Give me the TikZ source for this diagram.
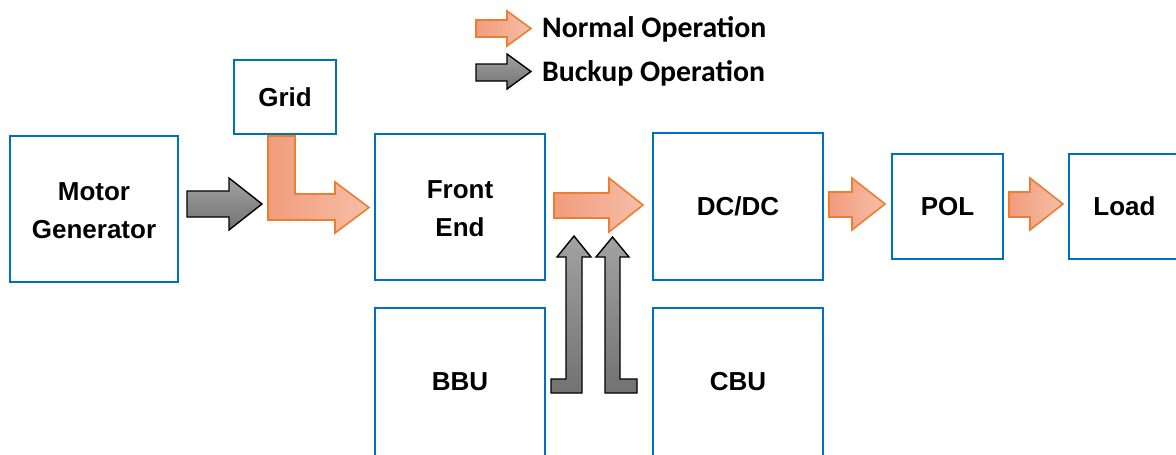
\documentclass[tikz,border=0pt]{standalone}
\usepackage{fontspec}
\setmainfont{Liberation Sans}
\newfontfamily\legendfont{Carlito}
\definecolor{boxblue}{HTML}{0070C0}
\definecolor{orangeline}{HTML}{ED7D31}
\definecolor{orangedark}{HTML}{F19C7C}
\definecolor{orangelight}{HTML}{F6BEA8}
\definecolor{graylight}{HTML}{A2A2A2}
\definecolor{graydark}{HTML}{727272}
\tikzset{
  block/.style={draw=boxblue, line width=2.6pt, fill=white, align=center,
    inner sep=0pt, font=\bfseries\fontsize{26}{38}\selectfont},
  blocktext/.style={inner sep=0pt, font=\bfseries\fontsize{26}{38}\selectfont},
  normalflow/.style={draw=orangeline, line width=1.6pt, line join=miter,
    left color=orangedark, right color=orangelight},
  backupflow/.style={draw=black, line width=1.4pt, line join=miter,
    top color=graylight, bottom color=graydark},
  legendtext/.style={anchor=west, inner sep=0pt,
    font=\legendfont\bfseries\fontsize{29.8}{30}\selectfont}
}
\begin{document}
\begin{tikzpicture}[x=1pt, y=-1pt]
\useasboundingbox (0,0) rectangle (1176,455);

% power blocks
\node[block, minimum width=168pt, minimum height=146pt] (mg)   at (94,209)    {};
\node[blocktext, align=center] (mgtext) at (94,211) {Motor\\Generator};
\node[block, minimum width=102pt, minimum height=74pt]  (grid) at (285,97)    {Grid};
\node[block, minimum width=170pt, minimum height=146pt] (fe)   at (460,207)   {};
\node[blocktext, align=center] (fetext) at (460,209) {Front\\End};
\node[block, minimum width=170pt, minimum height=147pt] (dcdc) at (738,206.5) {DC/DC};
\node[block, minimum width=111pt, minimum height=105pt] (pol)  at (947.5,206.5) {POL};
\node[block, minimum width=111pt, minimum height=105pt] (load) at (1124.5,206.5) {Load};
\node[block, minimum width=170pt, minimum height=152pt] (bbu)  at (460,384)   {};
\node[block, minimum width=170pt, minimum height=152pt] (cbu)  at (738,384)   {};
\node[blocktext] (bbutext) at (460,382) {BBU};
\node[blocktext] (cbutext) at (738,382) {CBU};

% generator feeding in (backup)
\draw[backupflow] (187,191) -- (229,191) -- (229,178) -- (262,204)
  -- (229,230) -- (229,217) -- (187,217) -- cycle;

% grid bent arrow into the front end
\draw[normalflow] (268,136) -- (295,136) -- (295,194) -- (335,194) -- (335,182)
  -- (369,207.5) -- (335,233) -- (335,220) -- (268,220) -- cycle;

% front end to DC/DC
\draw[normalflow] (554,193) -- (609,193) -- (609,178) -- (643,205)
  -- (609,232) -- (609,218) -- (554,218) -- cycle;

% battery and capacitor backup units feeding up
\draw[backupflow] (551,393) -- (551,379) -- (566,379) -- (566,257) -- (557,257)
  -- (574,236) -- (591,257) -- (582,257) -- (582,393) -- cycle;
\draw[backupflow] (605,393) -- (605,257) -- (596,257) -- (612.5,237) -- (629,257)
  -- (620,257) -- (620,379) -- (637,379) -- (637,393) -- cycle;

% DC/DC to POL, POL to load
\draw[normalflow] (829,192) -- (852,192) -- (852,178) -- (885,204)
  -- (852,230) -- (852,217) -- (829,217) -- cycle;
\draw[normalflow] (1009,192) -- (1030,192) -- (1030,178) -- (1063,204)
  -- (1030,230) -- (1030,217) -- (1009,217) -- cycle;

% legend
\draw[normalflow] (476,20) -- (507,20) -- (507,11) -- (531,28.5) -- (507,46)
  -- (507,37) -- (476,37) -- cycle;
\draw[backupflow] (476,64) -- (507,64) -- (507,54) -- (531,71.5) -- (507,89)
  -- (507,81) -- (476,81) -- cycle;
\node[legendtext] (normallabel) at (542,29.5) {Normal Operation};
\node[legendtext] (backuplabel) at (542,73.5) {Buckup Operation};
\end{tikzpicture}
\end{document}
